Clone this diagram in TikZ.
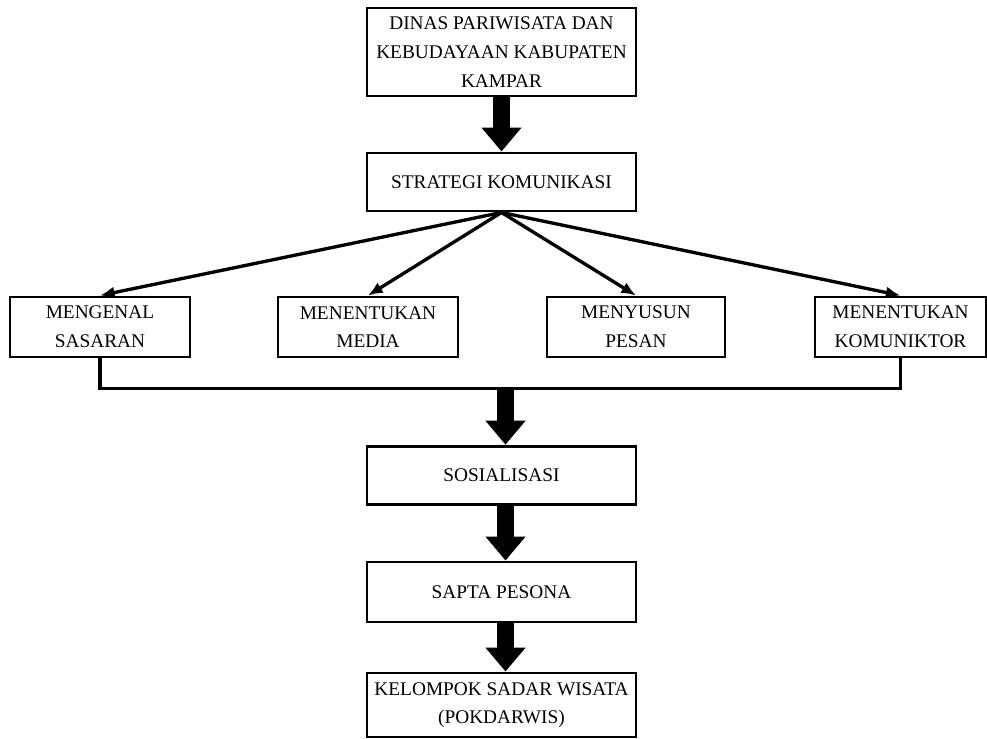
\documentclass[tikz,border=0pt]{standalone}
\usepackage{fontspec}
\setmainfont{Liberation Serif}
\usetikzlibrary{arrows.meta}

\begin{document}
\begin{tikzpicture}[
    x=0.75pt, y=-0.75pt,
    >={Latex[length=11pt,width=9pt]},
    box/.style = {
      draw,
      line width = 2.2pt,
      fill = white,
      align = center,
      inner sep = 1pt,
      minimum width = 201.75pt,
      minimum height = 44pt
    },
    small/.style = {
      box,
      minimum width = 135pt,
      minimum height = 45pt
    },
    thin/.style = {line width = 2.5pt, ->},
    fat/.style = {
      line width = 13pt,
      -{Triangle[width=29pt,length=18pt]}
    },
    font=\fontsize{14.5}{21.5}\selectfont
  ]
  \useasboundingbox (0,0) rectangle (987,738);
  % main column
  \node[box, minimum height = 66pt] (dinas) at (501.5,52)
    {DINAS PARIWISATA DAN\\KEBUDAYAAN KABUPATEN\\KAMPAR};
  \node[box, minimum height = 43.5pt] (strategi) at (501.5,182)
    {STRATEGI KOMUNIKASI};
  \node[box] (sosialisasi) at (501.5,475.5) {SOSIALISASI};
  \node[box, minimum height = 45pt] (sapta) at (501.5,592) {SAPTA PESONA};
  \node[box, minimum height = 48pt] (pokdarwis) at (501.5,705)
    {KELOMPOK SADAR WISATA\\(POKDARWIS)};
  % the four steps
  \node[small] (sasaran) at (100,327) {MENGENAL\\SASARAN};
  \node[small] (media) at (368,327) {MENENTUKAN\\MEDIA};
  \node[small, minimum width = 133.5pt] (pesan) at (636,327)
    {MENYUSUN\\PESAN};
  \node[small, minimum width = 128.25pt] (komunikator) at (900.5,327)
    {MENENTUKAN\\KOMUNIKTOR};

  \draw[fat] (dinas.south) -- (strategi.north);
  \foreach \n in {sasaran, media, pesan, komunikator}
    \draw[thin] (strategi.south) -- (\n.north);
  \draw[line width = 2.6pt] (sasaran.south) -- ++(0,30) coordinate (bl)
    -| (komunikator.south);
  \draw[fat] ([xshift = 3pt]bl -| sosialisasi.north)
    -- ([xshift = 3pt]sosialisasi.north);
  \draw[fat] ([xshift = 3pt]sosialisasi.south) -- ([xshift = 3pt]sapta.north);
  \draw[fat] ([xshift = 3pt]sapta.south) -- ([xshift = 3pt]pokdarwis.north);
\end{tikzpicture}
\end{document}
